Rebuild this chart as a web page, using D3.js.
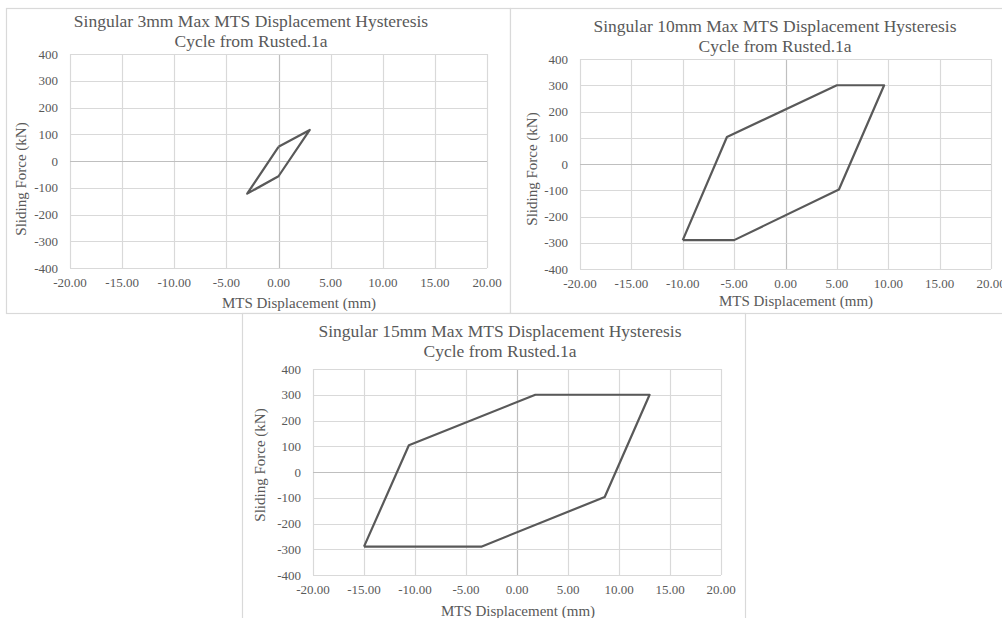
<!DOCTYPE html>
<html>
<head>
<meta charset="utf-8">
<script src="https://cdn.jsdelivr.net/npm/d3@7"></script>
<style>
  html, body { margin: 0; padding: 0; background: #fff; }
  svg text { font-family: "Liberation Serif", "Times New Roman", serif; fill: #595959; }
</style>
</head>
<body>
<div id="chart"></div>
<script>
// hysteresis loops
const xTicks = [-20, -15, -10, -5, 0, 5, 10, 15, 20];
const yTicks = [-400, -300, -200, -100, 0, 100, 200, 300, 400];

const disp3 = [0, 3, 0, -3, 0];
const force3 = [53, 116, -57, -122, 53];

const disp10 = [-10, -5.7, 5, 9.6, 5.2, -5, -10];
const force10 = [-290, 103, 300, 300, -97, -290, -290];

const disp15 = [-15, -10.6, 1.8, 13, 8.6, -3.5, -15];
const force15 = [-290, 104, 300, 300, -97, -290, -290];

const titles = [
  ['Singular 3mm Max MTS Displacement Hysteresis', 'Cycle from Rusted.1a'],
  ['Singular 10mm Max MTS Displacement Hysteresis', 'Cycle from Rusted.1a'],
  ['Singular 15mm Max MTS Displacement Hysteresis', 'Cycle from Rusted.1a']
];

const W = 1002, H = 618;
const svg = d3.select('#chart').append('svg')
  .attr('width', W).attr('height', H);
svg.append('rect').attr('width', W).attr('height', H).attr('fill', '#fff');

// panel layout (box, plot area, text positions)
const panels = [
  { box: [6, 8, 504, 305], plot: [70, 54, 487, 268], titleX: 251, titleY: 27,
    xTitle: [299, 308], yTitle: [26, 179], disp: disp3, force: force3, title: titles[0] },
  { box: [510, 8, 500, 305], plot: [580, 59, 991, 269], titleX: 775, titleY: 32,
    xTitle: [796, 306], yTitle: [537, 169], disp: disp10, force: force10, title: titles[1] },
  { box: [242, 313, 503, 310], plot: [313, 369, 721, 575], titleX: 500, titleY: 337,
    xTitle: [518, 616], yTitle: [265, 465], disp: disp15, force: force15, title: titles[2] }
];

panels.forEach(p => {
  const g = svg.append('g');
  g.append('rect')
    .attr('x', p.box[0] + 0.5).attr('y', p.box[1] + 0.5)
    .attr('width', p.box[2]).attr('height', p.box[3])
    .attr('fill', '#fff').attr('stroke', '#d9d9d9').attr('stroke-width', 1.2);

  const [x0, y0, x1, y1] = p.plot;
  const x = d3.scaleLinear().domain([-20, 20]).range([x0, x1]);
  const y = d3.scaleLinear().domain([-400, 400]).range([y1, y0]);

  // gridlines
  g.selectAll('.vg').data(xTicks).enter().append('line')
    .attr('x1', d => Math.round(x(d)) + 0.5).attr('x2', d => Math.round(x(d)) + 0.5)
    .attr('y1', y0).attr('y2', y1)
    .attr('stroke', d => d === 0 ? '#bfbfbf' : '#d9d9d9').attr('stroke-width', 1.2);
  g.selectAll('.hg').data(yTicks).enter().append('line')
    .attr('y1', d => Math.round(y(d)) + 0.5).attr('y2', d => Math.round(y(d)) + 0.5)
    .attr('x1', x0).attr('x2', x1)
    .attr('stroke', d => d === 0 ? '#bfbfbf' : '#d9d9d9').attr('stroke-width', 1.2);

  // tick labels
  g.selectAll('.xt').data(xTicks).enter().append('text')
    .attr('x', d => x(d)).attr('y', y1 + 19)
    .attr('text-anchor', 'middle').attr('font-size', 13)
    .text(d => d.toFixed(2));
  g.selectAll('.yt').data(yTicks).enter().append('text')
    .attr('x', x0 - 12).attr('y', d => y(d) + 4.5)
    .attr('text-anchor', 'end').attr('font-size', 13)
    .text(d => String(d));

  // loop
  const pts = p.disp.map((d, i) => [d, p.force[i]]);
  g.append('path')
    .datum(pts)
    .attr('d', d3.line().x(d => x(d[0])).y(d => y(d[1])))
    .attr('fill', 'none').attr('stroke', '#595959')
    .attr('stroke-width', 2.2).attr('stroke-linejoin', 'round');

  // titles
  g.append('text').attr('x', p.titleX).attr('y', p.titleY)
    .attr('text-anchor', 'middle').attr('font-size', 17.5).text(p.title[0]);
  g.append('text').attr('x', p.titleX).attr('y', p.titleY + 20)
    .attr('text-anchor', 'middle').attr('font-size', 17.5).text(p.title[1]);

  g.append('text').attr('x', p.xTitle[0]).attr('y', p.xTitle[1])
    .attr('text-anchor', 'middle').attr('font-size', 15).text('MTS Displacement (mm)');
  g.append('text')
    .attr('transform', `translate(${p.yTitle[0]},${p.yTitle[1]}) rotate(-90)`)
    .attr('text-anchor', 'middle').attr('font-size', 15).text('Sliding Force (kN)');
});
</script>
</body>
</html>
